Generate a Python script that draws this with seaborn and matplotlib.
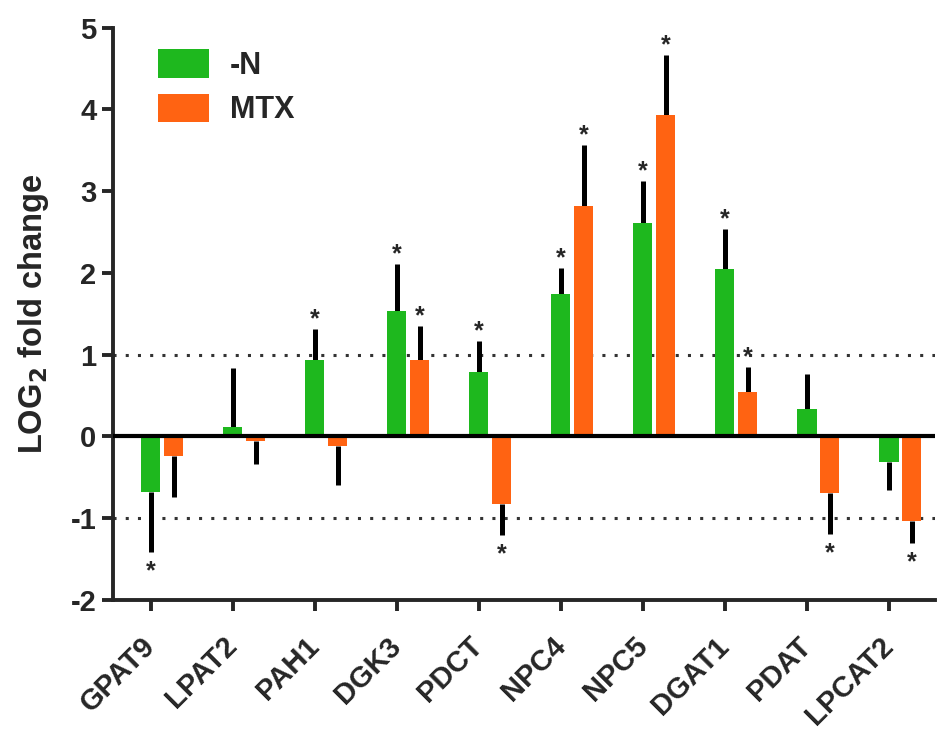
import numpy as np
import pandas as pd
import matplotlib
matplotlib.use("Agg")
import matplotlib.pyplot as plt
import seaborn as sns

genes = ['GPAT9', 'LPAT2', 'PAH1', 'DGK3', 'PDCT', 'NPC4', 'NPC5', 'DGAT1', 'PDAT', 'LPCAT2']
conditions = ['-N', 'MTX']

minus_n = [-0.68, 0.12, 0.94, 1.53, 0.79, 1.74, 2.61, 2.05, 0.33, -0.31]
minus_n_err = [0.73, 0.72, 0.38, 0.58, 0.38, 0.32, 0.52, 0.49, 0.43, 0.34]
minus_n_star = [1, 0, 1, 1, 1, 1, 1, 1, 0, 0]

mtx = [-0.24, -0.05, -0.12, 0.94, -0.83, 2.82, 3.93, 0.54, -0.69, -1.03]
mtx_err = [0.50, 0.29, 0.47, 0.41, 0.37, 0.74, 0.74, 0.31, 0.50, 0.27]
mtx_star = [0, 0, 0, 1, 1, 1, 1, 1, 1, 1]

colors = ['#1eb81e', '#ff6312']

sns.set_style('ticks')
plt.rcParams['font.family'] = ['Liberation Sans', 'DejaVu Sans']
plt.rcParams['font.weight'] = 'bold'

df = pd.DataFrame({
    'gene': genes * 2,
    'condition': [conditions[0]] * len(genes) + [conditions[1]] * len(genes),
    'value': minus_n + mtx,
})

fig = plt.figure(figsize=(9.5, 7.49), dpi=100)
ax = fig.add_axes([0.119, 0.199, 0.865, 0.764])

sns.barplot(data=df, x='gene', y='value', hue='condition', palette=colors,
            saturation=1, width=0.56, gap=0.16, errorbar=None, linewidth=0,
            ax=ax, zorder=3)

bar_conts = list(ax.containers[:2])
errs = [minus_n_err, mtx_err]
stars = [minus_n_star, mtx_star]
for k, cont in enumerate(bar_conts):
    for i, bar in enumerate(cont):
        xc = bar.get_x() + bar.get_width() / 2
        h = bar.get_height()
        e = errs[k][i]
        if h >= 0:
            ax.errorbar(xc, h, yerr=[[0], [e]], fmt='none', ecolor='black',
                        elinewidth=3.6, capsize=0, zorder=2)
            tip, off = h + e, 7
        else:
            ax.errorbar(xc, h, yerr=[[e], [0]], fmt='none', ecolor='black',
                        elinewidth=3.6, capsize=0, zorder=2)
            tip, off = h - e, -14
        if stars[k][i]:
            ax.annotate('*', (xc, tip), xytext=(0, off), textcoords='offset points',
                        ha='center', va='center', fontsize=18, fontweight='bold')

ax.axhline(0, color='black', lw=3, zorder=4)
for yv in (1, -1):
    ax.axhline(yv, color='#333333', lw=2.2, ls=(0, (1, 3.0)), zorder=1)

ax.set_ylim(-2, 5)
ax.set_xlim(-0.60, 9.42)
ax.set_yticks(range(-2, 6))
ax.set_yticklabels([str(v) for v in range(-2, 6)], fontsize=21, fontweight='bold')
ax.set_xticks(np.arange(len(genes)) - 0.14)
ax.set_xticklabels(genes, rotation=45, ha='right', va='center', rotation_mode='anchor',
                   fontsize=21, fontweight='bold')
ax.tick_params(axis='both', length=8, width=2.8, direction='out', pad=4)
ax.tick_params(axis='x', pad=22)
ax.set_xlabel('')
ax.set_ylabel('LOG$_2$ fold change', fontsize=23.5, fontweight='bold', labelpad=14)
sns.despine(ax=ax)
for s in ('left', 'bottom'):
    ax.spines[s].set_linewidth(2.8)

handles, labels = ax.get_legend_handles_labels()
ax.legend(handles[:2], labels[:2], loc='upper left', bbox_to_anchor=(0.055, 0.962),
          frameon=False, borderaxespad=0, borderpad=0,
          prop={'size': 22, 'weight': 'bold'}, handlelength=1.65, handleheight=1.05,
          handletextpad=0.7, labelspacing=0.42)

fig.savefig('out.png', dpi=100)
